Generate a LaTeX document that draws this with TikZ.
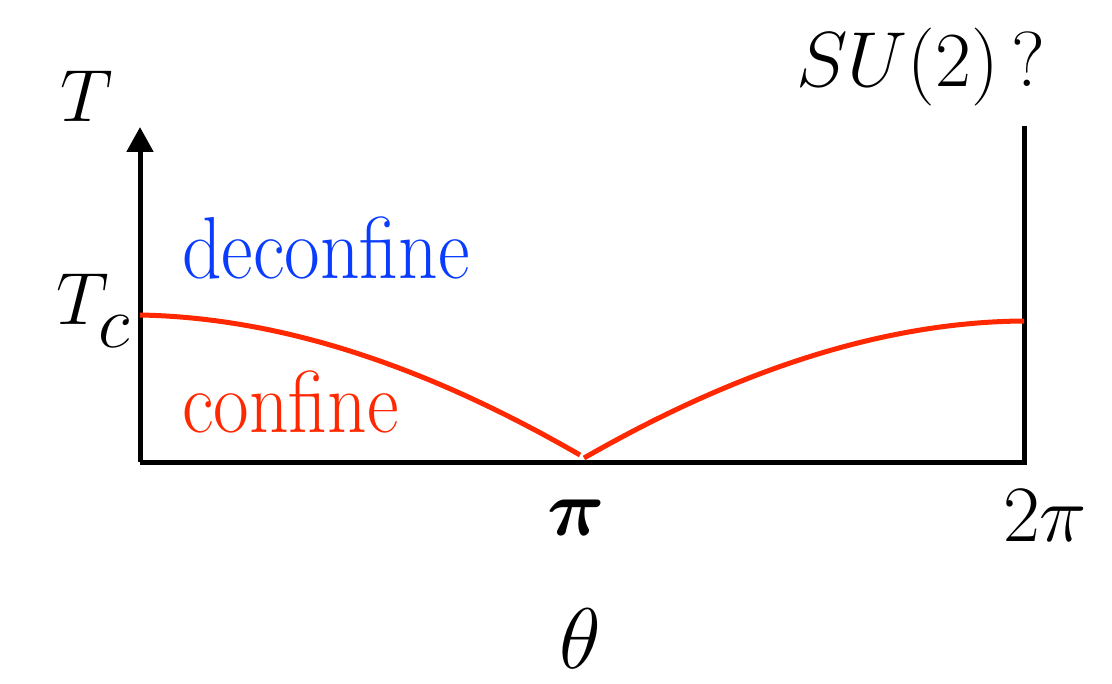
\RequirePackage{fix-cm}
\documentclass[tikz,border=0pt]{standalone}
\usepackage{amsmath}
\usepackage{graphicx}
\usetikzlibrary{arrows.meta}
\definecolor{cred}{RGB}{255,40,0}
\definecolor{cblue}{RGB}{10,60,255}
\begin{document}
\begin{tikzpicture}[x=0.5pt,y=-0.5pt,
  axis/.style={line width=2.5pt,black},
  phase/.style={line width=2.5pt,cred},
  lbl/.style={inner sep=0pt,font=\fontsize{37}{40}\selectfont},
  glbl/.style={inner sep=0pt,font=\fontsize{40}{44}\selectfont},
  reg/.style={inner sep=0pt,font=\fontsize{44}{46}\selectfont}]
\useasboundingbox (0,0) rectangle (1112,684);
\coordinate (o) at (140,462);
\coordinate (ytop) at (140,127);
\coordinate (xr) at (1024,462);
\coordinate (rtop) at (1024,126);
\coordinate (tcL) at (140,315);
\coordinate (pl) at (580,455);
\coordinate (pr) at (584,458);
\coordinate (tcR) at (1024,321);
\draw[axis,-{Triangle[length=12.5pt,width=13pt]}] (o) -- (ytop);
\draw[axis,line join=miter] (o) -- (xr) -- (rtop);
\draw[phase] (tcL) .. controls (300,318) and (450,380) .. (pl);
\draw[phase] (pr) .. controls (720,380) and (870,322) .. (tcR);
\node[lbl,anchor=base] (T) at (87,122) {$T$};
\node[lbl,anchor=base west] (Tc) at (56,324) {$T_{\raisebox{-6pt}{$c$}}$};
\node[lbl,font=\fontsize{39}{42}\selectfont,anchor=base] (su) at (921,87) {$SU(2)$\,?};
\node[reg,anchor=base west,text=cblue] (dec) at (182,278) {\scalebox{0.88}[1]{deconfine}};
\node[reg,anchor=base west,text=cred] (con) at (182,432) {\scalebox{0.88}[1]{confine}};
\node[glbl,anchor=base] (pi) at (576,535) {$\boldsymbol{\pi}$};
\node[glbl,anchor=base] (tpi) at (1045,541) {$2\pi$};
\node[glbl,font=\fontsize{43}{46}\selectfont,anchor=base] (th) at (580,668) {$\theta$};
\end{tikzpicture}
\end{document}
